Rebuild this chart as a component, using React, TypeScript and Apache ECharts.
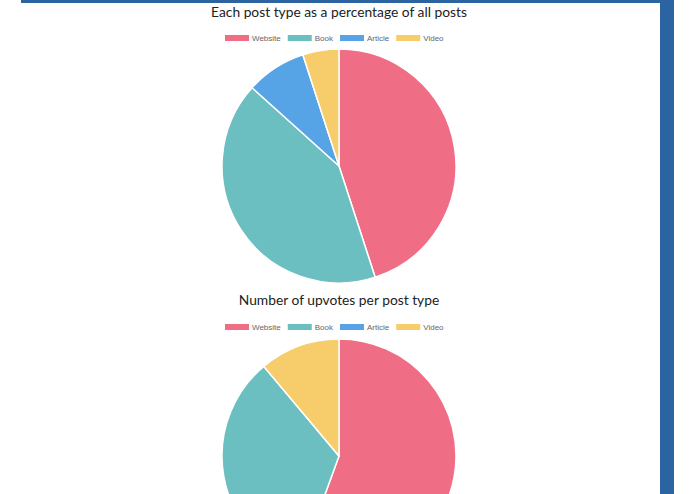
import React, { useEffect, useRef } from "react";
import * as echarts from "echarts";

const categories = ["Website", "Book", "Article", "Video"];
const postCounts = [27, 25, 5, 3];
const upvoteCounts = [5, 3, 0, 1];
const colors = ["#ef6e85", "#6cbfc0", "#56a3e6", "#f7cd6b"];
const titles = ["Each post type as a percentage of all posts", "Number of upvotes per post type"];

export default function App() {
  const ref = useRef<HTMLDivElement>(null);
  useEffect(() => {
    document.body.style.margin = "0";
    const chart = echarts.init(ref.current!, null, { renderer: "svg" });
    const mkData = (vals: number[]) =>
      categories.map((c, i) => ({ name: c, value: vals[i], itemStyle: { color: colors[i] } }));
    const legendBase = {
      data: categories,
      left: 223,
      orient: "horizontal",
      padding: 0,
      itemWidth: 26,
      itemHeight: 8,
      itemGap: 5,
      icon: "rect",
      textStyle: { fontSize: 8, color: "#666", fontFamily: "Liberation Sans", padding: [0, 0, 0, -3] },
      selectedMode: false,
    };
    const titleStyle = { fontSize: 13.8, fontWeight: "normal", color: "#222", fontFamily: "Lato" };
    chart.setOption({
      animation: false,
      backgroundColor: "#fff",
      color: colors,
      title: [
        { text: titles[0], left: 339, top: 4, padding: 0, textAlign: "center", textStyle: titleStyle },
        { text: titles[1], left: 339, top: 292, padding: 0, textAlign: "center", textStyle: titleStyle },
      ],
      legend: [
        { ...legendBase, top: 33 },
        { ...legendBase, top: 322 },
      ],
      graphic: [
        { type: "rect", shape: { x: 21, y: 0, width: 640, height: 3 }, style: { fill: "#2c64a2" } },
        { type: "rect", shape: { x: 660, y: 0, width: 14, height: 494 }, style: { fill: "#2c64a2" } },
      ],
      series: [
        {
          type: "pie",
          center: [339, 166],
          radius: 117,
          startAngle: 90,
          clockwise: true,
          label: { show: false },
          labelLine: { show: false },
          itemStyle: { borderColor: "#fff", borderWidth: 1.5 },
          emphasis: { disabled: true },
          data: mkData(postCounts),
        },
        {
          type: "pie",
          center: [339, 456],
          radius: 117,
          startAngle: 90,
          clockwise: true,
          label: { show: false },
          labelLine: { show: false },
          itemStyle: { borderColor: "#fff", borderWidth: 1.5 },
          emphasis: { disabled: true },
          data: mkData(upvoteCounts),
        },
      ],
    });
    return () => chart.dispose();
  }, []);
  return <div ref={ref} style={{ position: "absolute", left: 0, top: 0, width: 695, height: 494 }} />;
}
